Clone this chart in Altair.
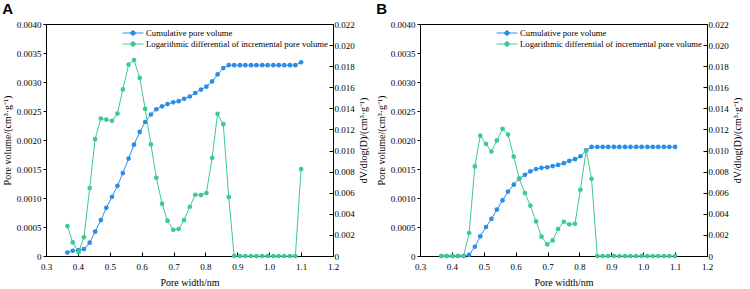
import altair as alt
import pandas as pd

pore_width = [0.367, 0.384, 0.402, 0.419, 0.437, 0.454, 0.472, 0.489, 0.507, 0.524,
              0.541, 0.559, 0.576, 0.594, 0.611, 0.629, 0.646, 0.664, 0.681, 0.699,
              0.716, 0.733, 0.751, 0.768, 0.786, 0.803, 0.821, 0.838, 0.856, 0.873,
              0.890, 0.908, 0.925, 0.943, 0.960, 0.978, 0.995, 1.013, 1.030, 1.047,
              1.065, 1.082, 1.100]

a_cum = [0.00006, 0.00009, 0.00010, 0.00012, 0.00023, 0.00042, 0.00062, 0.00083, 0.00102, 0.00121,
         0.00143, 0.00168, 0.00192, 0.00214, 0.00231, 0.00244, 0.00253, 0.00258, 0.00262, 0.00265,
         0.00267, 0.00271, 0.00275, 0.00281, 0.00287, 0.00292, 0.00301, 0.00313, 0.00324, 0.00329,
         0.00329, 0.00329, 0.00329, 0.00329, 0.00329, 0.00329, 0.00329, 0.00329, 0.00329, 0.00329,
         0.00329, 0.00329, 0.00334]
a_log = [0.00284, 0.00129, 0.00035, 0.00177, 0.00644, 0.01108, 0.01304, 0.01294, 0.01282, 0.01351,
         0.01580, 0.01814, 0.01858, 0.01689, 0.01395, 0.01058, 0.00742, 0.00496, 0.00335, 0.00249,
         0.00256, 0.00341, 0.00467, 0.00581, 0.00578, 0.00597, 0.00931, 0.01348, 0.01250, 0.00559,
         0, 0, 0, 0, 0, 0, 0, 0, 0, 0,
         0, 0, 0.00824]

b_cum = [0, 0, 0, 0, 0, 0.00002, 0.00016, 0.00034, 0.00050, 0.00064,
         0.00080, 0.00096, 0.00111, 0.00123, 0.00133, 0.00140, 0.00146, 0.00150, 0.00152, 0.00153,
         0.00155, 0.00157, 0.00160, 0.00164, 0.00167, 0.00172, 0.00182, 0.00188, 0.00188, 0.00188,
         0.00188, 0.00188, 0.00188, 0.00188, 0.00188, 0.00188, 0.00188, 0.00188, 0.00188, 0.00188,
         0.00188, 0.00188, 0.00188]
b_log = [0, 0, 0, 0, 0, 0.00218, 0.00849, 0.01141, 0.01062, 0.00991,
         0.01096, 0.01206, 0.01151, 0.00943, 0.00737, 0.00597, 0.00477, 0.00328, 0.00183, 0.00110,
         0.00148, 0.00256, 0.00325, 0.00300, 0.00306, 0.00628, 0.01001, 0.00732, 0, 0,
         0, 0, 0, 0, 0, 0, 0, 0, 0, 0,
         0, 0, 0]

series_names = ["Cumulative pore volume",
                "Logarithmic differential of incremental pore volume"]
series_colors = ["#2c8de6", "#3cc996"]
x_ticks = [0.3, 0.4, 0.5, 0.6, 0.7, 0.8, 0.9, 1.0, 1.1, 1.2]
left_ticks = [0, 0.0005, 0.001, 0.0015, 0.002, 0.0025, 0.003, 0.0035, 0.004]
right_ticks = [0, 0.002, 0.004, 0.006, 0.008, 0.010, 0.012, 0.014, 0.016, 0.018, 0.020, 0.022]

SERIF = "Liberation Serif"
SYMBOL = ("M-2,0L2,0M-0.43,0A0.43,0.43 0 1,0 0.43,0A0.43,0.43 0 1,0 -0.43,0Z")


def panel(letter, cum, logd):
    n = len(pore_width)
    df = pd.DataFrame({
        "w": pore_width * 2,
        "v": cum + logd,
        "s": [series_names[0]] * n + [series_names[1]] * n,
    })
    x = alt.X("w:Q", scale=alt.Scale(domain=[0.3, 1.2], nice=False, zero=False),
              axis=alt.Axis(values=x_ticks, format=".1f", title="Pore width/nm",
                            labelFont=SERIF, labelFontSize=9, labelColor="black",
                            titleFont=SERIF, titleFontSize=10, titleFontWeight="normal",
                            titleColor="black", tickColor="black", tickSize=4,
                            domain=False, offset=-4, labelPadding=6, titlePadding=6,
                            labelFlush=False, grid=False))
    color = alt.Color("s:N", scale=alt.Scale(domain=series_names, range=series_colors),
                      legend=alt.Legend(title=None, orient="none", legendX=81, legendY=3,
                                        labelFont=SERIF, labelFontSize=8.7, labelColor="black",
                                        symbolType=SYMBOL, symbolSize=110,
                                        symbolStrokeWidth=1, labelOffset=7,
                                        rowPadding=0, labelLimit=400))
    base = alt.Chart(df).encode(x=x, color=color)
    left = base.transform_filter(alt.datum.s == series_names[0]).mark_line(
        strokeWidth=1, point=alt.OverlayMarkDef(filled=True, size=22, opacity=1)
    ).encode(
        y=alt.Y("v:Q", scale=alt.Scale(domain=[0, 0.004], nice=False),
                axis=alt.Axis(values=left_ticks,
                              labelExpr="datum.value == 0 ? '0' : format(datum.value, '.4f')",
                              title="Pore volume/(cm³·g⁻¹)",
                              labelFont=SERIF, labelFontSize=9, labelColor="black",
                              titleFont=SERIF, titleFontSize=10, titleFontWeight="normal",
                              titleColor="black", tickColor="black", tickSize=3,
                              domain=False, labelPadding=2, titlePadding=4, grid=False,
                              labelFlush=False))
    )
    right = base.transform_filter(alt.datum.s == series_names[1]).mark_line(
        strokeWidth=1, point=alt.OverlayMarkDef(filled=True, size=22, opacity=1)
    ).encode(
        y=alt.Y("v:Q", scale=alt.Scale(domain=[0, 0.022], nice=False),
                axis=alt.Axis(orient="right", values=right_ticks,
                              labelExpr="datum.value == 0 ? '0' : format(datum.value, '.3f')",
                              title="dV/dlog(D)/(cm³·g⁻¹)",
                              labelFont=SERIF, labelFontSize=9, labelColor="black",
                              titleFont=SERIF, titleFontSize=10, titleFontWeight="normal",
                              titleColor="black", tickColor="black", tickSize=4,
                              offset=-4, domain=False, labelPadding=1, titlePadding=4,
                              titleAngle=270, titleBaseline="top",
                              grid=False, labelFlush=False))
    )
    return alt.layer(left, right).resolve_scale(y="independent").properties(
        width=287, height=232,
        title=alt.TitleParams(letter, anchor="start", frame="bounds",
                              font="Liberation Sans", fontSize=15, fontWeight="bold",
                              color="black", offset=3),
    )


chart = alt.hconcat(
    panel("A", a_cum, a_log),
    panel("B", b_cum, b_log),
    spacing=6,
).resolve_scale(color="independent").resolve_legend(color="independent").configure_view(
    stroke="black", strokeWidth=1
).properties(padding={"left": 1, "top": 1, "right": 0, "bottom": 0})

chart.save("out.html", embed_options={"renderer": "svg", "actions": False})
